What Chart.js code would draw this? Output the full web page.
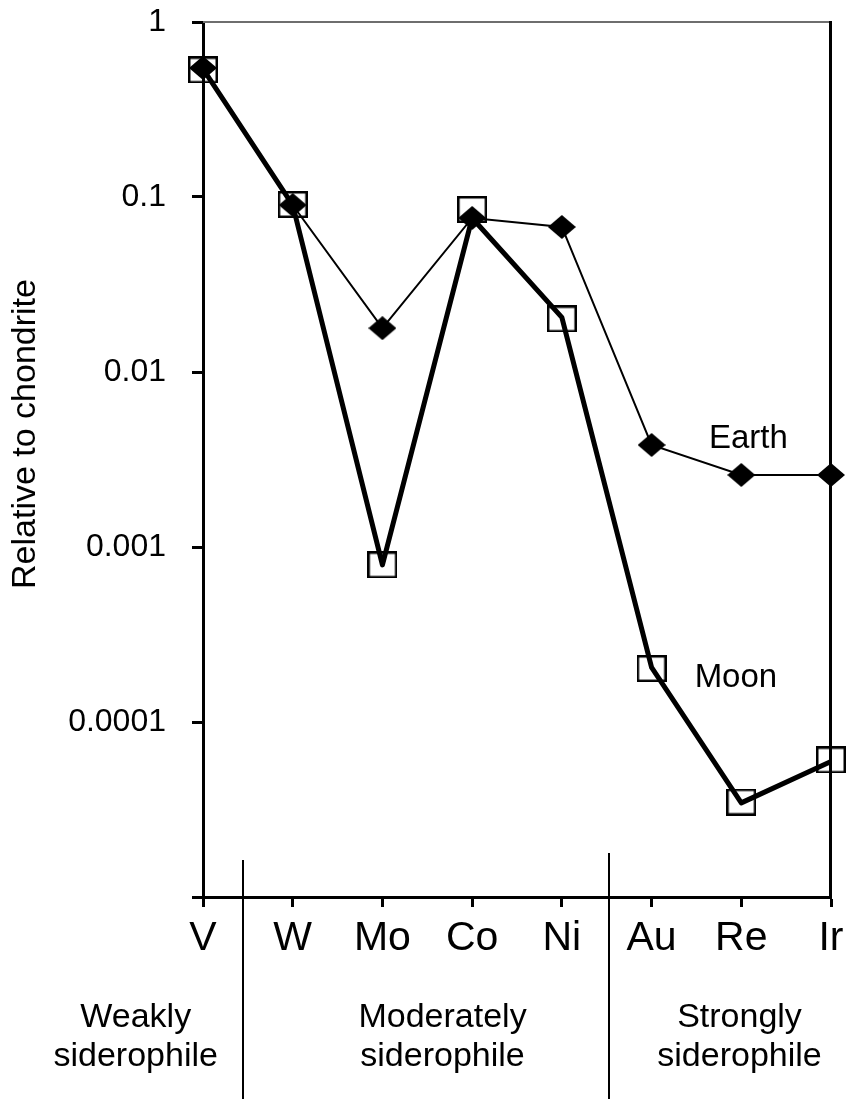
<!DOCTYPE html>
<html>
<head>
<meta charset="utf-8">
<script src="https://cdn.jsdelivr.net/npm/chart.js@4.4.1/dist/chart.umd.min.js"></script>
<style>
  html, body { margin: 0; padding: 0; background: #fff; }
</style>
</head>
<body>
<canvas id="chart" width="852" height="1099"></canvas>
<script>
// Siderophile element abundances relative to chondrite (log scale).
const elements = ["V", "W", "Mo", "Co", "Ni", "Au", "Re", "Ir"];
const earth = [0.546, 0.090, 0.0178, 0.0759, 0.0674, 0.00383, 0.00258, 0.00258];
const moon = [0.532, 0.0906, 0.00079, 0.0848, 0.0201, 0.000202, 0.0000349, 0.0000607];
// the thick Moon line is drawn through slightly different vertices (Co joins the Earth point)
const moonLine = [0.54, 0.090, 0.00079, 0.0759, 0.0205, 0.000205, 0.0000345, 0.0000595];
const yTicks = [1, 0.1, 0.01, 0.001, 0.0001, 0.00001];
const yTickLabels = ["1", "0.1", "0.01", "0.001", "0.0001", ""];
const groupNames = [["Weakly", "siderophile"], ["Moderately", "siderophile"], ["Strongly", "siderophile"]];
const yTitle = "Relative to chondrite";
const seriesNames = ["Earth", "Moon"];

const FONT = '"Liberation Sans", Arial, sans-serif';

function diamond(w, h) {
  const c = document.createElement("canvas");
  c.width = w; c.height = h;
  const g = c.getContext("2d");
  g.fillStyle = "#000";
  g.beginPath();
  g.moveTo(w / 2, 0); g.lineTo(w, h / 2); g.lineTo(w / 2, h); g.lineTo(0, h / 2);
  g.closePath(); g.fill();
  return c;
}
function square(w, h, lw) {
  const c = document.createElement("canvas");
  c.width = w; c.height = h;
  const g = c.getContext("2d");
  g.strokeStyle = "#000";
  g.lineWidth = lw;
  g.strokeRect(lw / 2, lw / 2, w - lw, h - lw);
  return c;
}

const decorations = {
  id: "decorations",
  afterDraw(chart) {
    const { ctx, chartArea: a, scales: { x, y } } = chart;
    ctx.save();
    // top frame line (grey) and right frame line (black)
    ctx.strokeStyle = "#6e6e6e";
    ctx.lineWidth = 2;
    ctx.beginPath(); ctx.moveTo(a.left, a.top); ctx.lineTo(a.right, a.top); ctx.stroke();
    ctx.strokeStyle = "#000";
    ctx.lineWidth = 3;
    ctx.beginPath(); ctx.moveTo(a.right - 0.5, a.top - 1); ctx.lineTo(a.right - 0.5, a.bottom); ctx.stroke();

    // group separators
    ctx.lineWidth = 2;
    [[0.45, 860], [4.53, 853]].forEach(([idx, top]) => {
      const px = Math.round(x.getPixelForValue(idx));
      ctx.beginPath(); ctx.moveTo(px, top); ctx.lineTo(px, chart.height); ctx.stroke();
    });

    // group labels
    ctx.fillStyle = "#000";
    ctx.font = "34px " + FONT;
    ctx.textAlign = "center";
    ctx.textBaseline = "alphabetic";
    [-0.75, 2.67, 5.98].forEach((idx, i) => {
      const px = x.getPixelForValue(idx);
      ctx.fillText(groupNames[i][0], px, 1027);
      ctx.fillText(groupNames[i][1], px, 1066);
    });

    // series labels
    ctx.font = "33px " + FONT;
    ctx.textAlign = "left";
    ctx.fillText(seriesNames[0], x.getPixelForValue(5.64), y.getPixelForValue(0.00368));
    ctx.fillText(seriesNames[1], x.getPixelForValue(5.48), y.getPixelForValue(0.000158));

    // y axis title
    ctx.translate(26, 434);
    ctx.rotate(-Math.PI / 2);
    ctx.textAlign = "center";
    ctx.textBaseline = "middle";
    ctx.font = "34px " + FONT;
    ctx.fillText(yTitle, 0, 0);
    ctx.restore();
  }
};

new Chart(document.getElementById("chart"), {
  type: "line",
  data: {
    labels: elements,
    datasets: [
      {
        label: "Moon",
        data: moon,
        showLine: false,
        pointStyle: square(30, 27, 2.5),
        pointHoverRadius: 0,
        clip: false,
      },
      {
        label: "Earth",
        data: earth,
        borderColor: "#000",
        borderWidth: 2,
        pointStyle: diamond(28, 24),
        clip: false,
      },
      {
        label: "Moon line",
        data: moonLine,
        borderColor: "#000",
        borderWidth: 5,
        borderJoinStyle: "round",
        pointRadius: 0,
        clip: false,
      },
    ],
  },
  options: {
    responsive: false,
    animation: false,
    events: [],
    layout: { padding: { top: 22, right: 21, left: 0, bottom: 0 } },
    plugins: { legend: { display: false }, tooltip: { enabled: false } },
    scales: {
      x: {
        type: "category",
        offset: false,
        afterFit(s) { s.height = 202; s.paddingLeft = 0; s.paddingRight = 0; },
        border: { color: "#000", width: 3 },
        grid: { drawOnChartArea: false, drawTicks: true, tickLength: 10, tickWidth: 3, tickColor: "#000" },
        ticks: { color: "#000", font: { family: FONT, size: 41, lineHeight: 1.2 }, padding: 7, maxRotation: 0, autoSkip: false },
      },
      y: {
        type: "logarithmic",
        min: 0.00001,
        max: 1,
        afterFit(s) { s.width = 203; s.paddingTop = 0; s.paddingBottom = 0; },
        afterBuildTicks(s) { s.ticks = yTicks.map((v) => ({ value: v })); },
        border: { color: "#000", width: 3 },
        grid: { drawOnChartArea: false, drawTicks: true, tickLength: 11, tickWidth: 3, tickColor: "#000" },
        ticks: {
          color: "#000",
          font: { family: FONT, size: 32 },
          padding: 26,
          callback: (v) => yTickLabels[yTicks.indexOf(v)] ?? "",
        },
      },
    },
  },
  plugins: [decorations],
});
</script>
</body>
</html>
